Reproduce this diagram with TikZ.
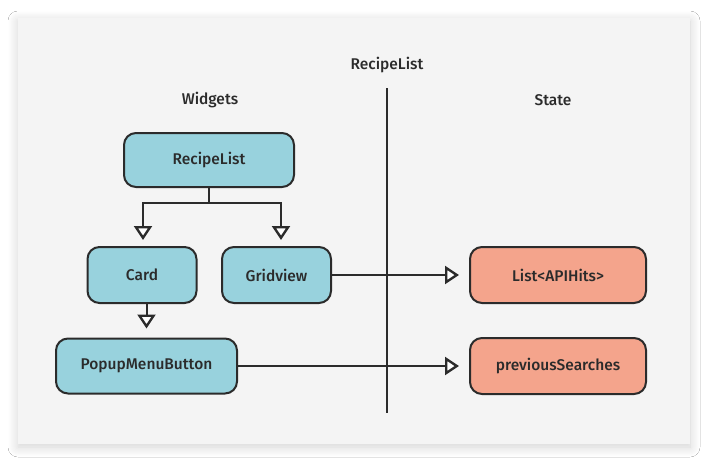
\documentclass[tikz,border=0pt]{standalone}
\usepackage{fontspec}
\setmainfont{Fira Sans Medium}
\usetikzlibrary{arrows.meta,shadows.blur}
\definecolor{panel}{HTML}{F4F4F4}
\definecolor{bluebox}{HTML}{98D2DD}
\definecolor{redbox}{HTML}{F4A48C}
\definecolor{ink}{HTML}{2B2B2B}
\tikzset{
  box/.style={draw=ink, line width=2pt, rounded corners=12pt, align=center,
    font=\fontsize{15.5}{17}\selectfont\color{ink}, inner sep=0pt},
  wbox/.style={box, fill=bluebox},
  sbox/.style={box, fill=redbox},
  lbl/.style={font=\fontsize{15.5}{17}\selectfont\color{ink}},
  conn/.style={draw=ink, line width=2pt,
    -{Triangle[length=14pt,width=18pt,fill=white,line width=2.4pt]}},
}
\begin{document}
\begin{tikzpicture}[x=1pt,y=-1pt]
\useasboundingbox (0,0) rectangle (708,463);
\fill[white] (0,0) rectangle (708,463);
\fill[panel, blur shadow={shadow blur steps=12, shadow xshift=0pt, shadow yshift=-3pt, shadow blur radius=10pt, shadow opacity=18}] (18,18) rectangle (690,444);

\node[lbl] (title) at (387,65) {RecipeList};
\node[lbl] (wid) at (210,100) {Widgets};
\node[lbl] (st) at (553,100) {State};
\coordinate (vtop) at (387,88);
\coordinate (vbot) at (387,413);
\draw[ink, line width=2pt] (vtop) -- (vbot);

\node[wbox, minimum width=170pt, minimum height=54pt] (rl) at (209,160) {RecipeList};
\node[wbox, minimum width=109pt, minimum height=56pt] (card) at (142,275) {Card};
\node[wbox, minimum width=109pt, minimum height=56pt] (gv) at (276.5,275) {Gridview};
\node[wbox, minimum width=181pt, minimum height=55pt] (pmb) at (146.5,366) {PopupMenuButton};
\node[sbox, minimum width=176pt, minimum height=56pt] (api) at (558,275) {List<APIHits>};
\node[sbox, minimum width=176pt, minimum height=56pt] (prev) at (558,366) {previousSearches};

\coordinate (lc) at (143,240);
\coordinate (rc) at (281,240);
\draw[conn] (rl.south) -- ++(0,15) -| (lc);
\draw[conn] (rl.south) -- ++(0,15) -| (rc);
\draw[conn, shorten >=9pt] (card.south -| pmb.north) -- (pmb.north);
\draw[conn, shorten >=10pt] (gv.east) -- (api.west);
\draw[conn, shorten >=10pt] (pmb.east) -- (prev.west);
\end{tikzpicture}
\end{document}
